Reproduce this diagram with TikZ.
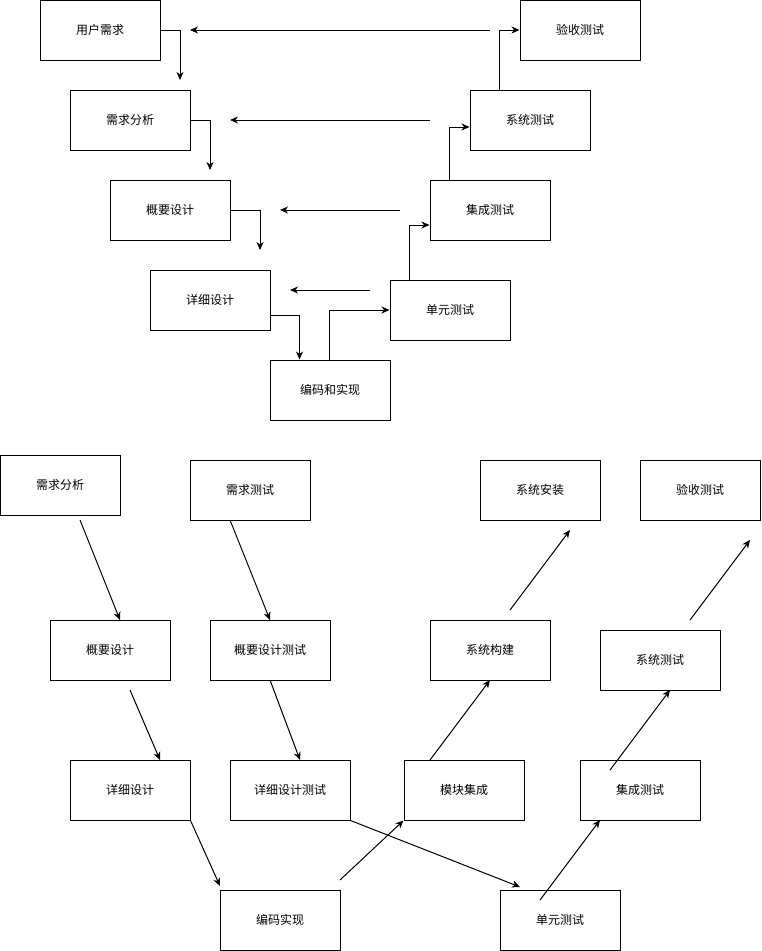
\documentclass[tikz,border=0pt]{standalone}
\usepackage{fontspec}
\newfontfamily\cjk{Noto Sans CJK SC}
\usetikzlibrary{arrows.meta}
\begin{document}
\begin{tikzpicture}[x=1pt,y=-1pt,
  box/.style={draw,line width=1pt,minimum width=120pt,minimum height=60pt,inner sep=0pt,
    font=\cjk\fontsize{12}{14}\selectfont},
  arr/.style={line width=1pt,-{Stealth[length=8pt,width=7pt,inset=2.5pt]}}]
\useasboundingbox[fill=white] (0,0) rectangle (761,951);
% ---------- top diagram ----------
\node[box] (t1) at (100,30) {用户需求};
\node[box] (t2) at (130,120) {需求分析};
\node[box] (t3) at (170,210) {概要设计};
\node[box] (t4) at (210,300) {详细设计};
\node[box] (t5) at (330,390) {编码和实现};
\node[box] (t6) at (450,310) {单元测试};
\node[box] (t7) at (490,210) {集成测试};
\node[box] (t8) at (530,120) {系统测试};
\node[box] (t9) at (580,30) {验收测试};
\coordinate (e1) at (180,80);
\coordinate (e2) at (210,170);
\coordinate (e3) at (260,250);
\draw[arr] (t1.east) -| (e1);
\draw[arr] (t2.east) -| (e2);
\draw[arr] (t3.east) -| (e3);
\draw[arr] ([yshift=-15pt]t4.east) -| ([xshift=30pt]t5.north west);
\draw[arr] ([xshift=60pt]t5.north west) |- (t6.west);
\draw[arr] ([xshift=20pt]t6.north west) |- ([yshift=-15pt]t7.west);
\draw[arr] ([xshift=20pt]t7.north west) |- ([yshift=-7pt]t8.west);
\draw[arr] ([xshift=30pt]t8.north west) |- (t9.west);
\coordinate (f1s) at (490,30);  \coordinate (f1e) at (190,30);
\coordinate (f2s) at (430,120); \coordinate (f2e) at (230,120);
\coordinate (f3s) at (400,210); \coordinate (f3e) at (280,210);
\coordinate (f4s) at (370,290); \coordinate (f4e) at (290,290);
\draw[arr] (f1s) -- (f1e);
\draw[arr] (f2s) -- (f2e);
\draw[arr] (f3s) -- (f3e);
\draw[arr] (f4s) -- (f4e);
% ---------- bottom diagram ----------
\node[box] (b1) at (60,485) {需求分析};
\node[box] (b2) at (250,490) {需求测试};
\node[box] (b3) at (110,650) {概要设计};
\node[box] (b4) at (270,650) {概要设计测试};
\node[box] (b5) at (130,790) {详细设计};
\node[box] (b6) at (290,790) {详细设计测试};
\node[box] (b7) at (280,920) {编码实现};
\node[box] (b8) at (560,920) {单元测试};
\node[box] (b9) at (464,790) {模块集成};
\node[box] (b10) at (640,790) {集成测试};
\node[box] (b11) at (490,650) {系统构建};
\node[box] (b12) at (660,660) {系统测试};
\node[box] (b13) at (540,490) {系统安装};
\node[box] (b14) at (700,490) {验收测试};
\coordinate (a1s) at (80,520);  \coordinate (a1e) at (120,620);
\coordinate (a2s) at (230,520); \coordinate (a2e) at (270,620);
\coordinate (a3s) at (130,690); \coordinate (a3e) at (160,760);
\coordinate (a4s) at (270,680); \coordinate (a4e) at (300,760);
\coordinate (a5e) at (220,886);
\coordinate (a6e) at (520,887);
\coordinate (a7s) at (340,880);
\coordinate (a8s) at (430,760); \coordinate (a8e) at (490,680);
\coordinate (a9s) at (510,610); \coordinate (a9e) at (570,530);
\coordinate (a10s) at (540,900); \coordinate (a10e) at (600,820);
\coordinate (a11s) at (610,770); \coordinate (a11e) at (670,690);
\coordinate (a12s) at (690,620); \coordinate (a12e) at (750,540);
\draw[arr] (a1s) -- (a1e);
\draw[arr] (a2s) -- (a2e);
\draw[arr] (a3s) -- (a3e);
\draw[arr] (a4s) -- (a4e);
\draw[arr] (b5.south east) -- (a5e);
\draw[arr] (b6.south east) -- (a6e);
\draw[arr] (a7s) -- (b9.south west);
\draw[arr] (a8s) -- (a8e);
\draw[arr] (a9s) -- (a9e);
\draw[arr] (a10s) -- (a10e);
\draw[arr] (a11s) -- (a11e);
\draw[arr] (a12s) -- (a12e);
\end{tikzpicture}
\end{document}
